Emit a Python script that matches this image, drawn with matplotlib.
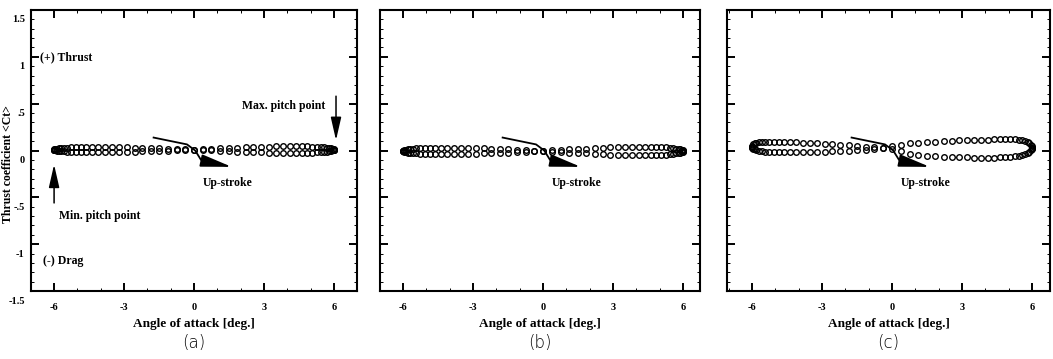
import matplotlib
matplotlib.use("Agg")
import matplotlib.pyplot as plt
from matplotlib.ticker import FixedLocator, MultipleLocator, FixedFormatter
from matplotlib.transforms import ScaledTranslation
from matplotlib.patches import FancyArrowPatch

# ---------------- data ----------------
ALPHA = [-6.00, -5.99, -5.95, -5.89, -5.81, -5.71, -5.58, -5.43, -5.26, -5.07,
         -4.85, -4.62, -4.37, -4.11, -3.82, -3.53, -3.21, -2.89, -2.55, -2.21,
         -1.85, -1.49, -1.12, -0.75, -0.38, 0.00, 0.38, 0.75, 1.12, 1.49,
         1.85, 2.21, 2.55, 2.89, 3.21, 3.53, 3.82, 4.11, 4.37, 4.62,
         4.85, 5.07, 5.26, 5.43, 5.58, 5.71, 5.81, 5.89, 5.95, 5.99, 6.00]

# panel (a)
CT_A_UP = [0.010, 0.014, 0.017, 0.020, 0.023, 0.026, 0.029, 0.032, 0.034, 0.035,
           0.037, 0.038, 0.038, 0.038, 0.038, 0.037, 0.035, 0.034, 0.032, 0.029,
           0.026, 0.023, 0.020, 0.017, 0.014, 0.010, 0.006, 0.001, -0.003, -0.007,
           -0.011, -0.014, -0.017, -0.020, -0.022, -0.023, -0.024, -0.025, -0.025, -0.024,
           -0.023, -0.022, -0.020, -0.017, -0.014, -0.011, -0.007, -0.003, 0.001, 0.006, 0.010]
CT_A_DOWN = [0.010, 0.006, 0.003, 0.000, -0.003, -0.006, -0.009, -0.012, -0.014, -0.015,
             -0.017, -0.018, -0.018, -0.018, -0.018, -0.017, -0.015, -0.014, -0.012, -0.009,
             -0.006, -0.003, 0.000, 0.003, 0.006, 0.010, 0.014, 0.019, 0.023, 0.027,
             0.031, 0.034, 0.037, 0.040, 0.042, 0.043, 0.044, 0.045, 0.045, 0.044,
             0.043, 0.042, 0.040, 0.037, 0.034, 0.031, 0.027, 0.023, 0.019, 0.014, 0.010]

# panel (b)
CT_B_UP = [-0.005, -0.001, 0.004, 0.008, 0.012, 0.016, 0.019, 0.022, 0.025, 0.027,
           0.028, 0.029, 0.030, 0.030, 0.029, 0.028, 0.027, 0.025, 0.022, 0.019,
           0.016, 0.012, 0.008, 0.004, -0.001, -0.005, -0.011, -0.016, -0.022, -0.027,
           -0.031, -0.036, -0.040, -0.043, -0.046, -0.048, -0.049, -0.050, -0.050, -0.049,
           -0.048, -0.046, -0.043, -0.040, -0.036, -0.031, -0.027, -0.022, -0.016, -0.011, -0.005]
CT_B_DOWN = [-0.005, -0.009, -0.014, -0.018, -0.022, -0.026, -0.029, -0.032, -0.035, -0.037,
             -0.038, -0.039, -0.040, -0.040, -0.039, -0.038, -0.037, -0.035, -0.032, -0.029,
             -0.026, -0.022, -0.018, -0.014, -0.009, -0.005, 0.001, 0.006, 0.012, 0.017,
             0.021, 0.026, 0.030, 0.033, 0.036, 0.038, 0.039, 0.040, 0.040, 0.039,
             0.038, 0.036, 0.033, 0.030, 0.026, 0.021, 0.017, 0.012, 0.006, 0.001, -0.005]

# panel (c)
CT_C_UP = [0.035, 0.050, 0.065, 0.075, 0.083, 0.088, 0.090, 0.092, 0.093, 0.093,
           0.092, 0.091, 0.090, 0.088, 0.085, 0.082, 0.078, 0.073, 0.068, 0.062,
           0.055, 0.048, 0.040, 0.033, 0.025, 0.015, -0.010, -0.035, -0.050, -0.058,
           -0.063, -0.067, -0.070, -0.072, -0.074, -0.075, -0.076, -0.076, -0.075, -0.074,
           -0.072, -0.068, -0.062, -0.055, -0.046, -0.036, -0.025, -0.012, 0.002, 0.016, 0.030]
CT_C_DOWN = [0.035, 0.028, 0.020, 0.012, 0.005, -0.002, -0.008, -0.013, -0.016, -0.018,
             -0.020, -0.020, -0.020, -0.020, -0.018, -0.017, -0.015, -0.012, -0.010, -0.005,
             0.000, 0.005, 0.010, 0.020, 0.030, 0.045, 0.060, 0.080, 0.085, 0.090,
             0.095, 0.100, 0.105, 0.108, 0.110, 0.113, 0.115, 0.117, 0.118, 0.120,
             0.120, 0.120, 0.118, 0.115, 0.110, 0.100, 0.090, 0.075, 0.060, 0.045, 0.030]

X_TICKS = [-6, -3, 0, 3, 6]
X_TICK_LABELS = ["-6", "-3", "0", "3", "6"]
Y_TICKS = [-1.5, -1.0, -0.5, 0.0, 0.5, 1.0, 1.5]
Y_TICK_LABELS = ["-1.5", "-1", "-.5", "0", ".5", "1", "1.5"]
PANEL_LABELS = ["(a)", "(b)", "(c)"]
X_LABEL = "Angle of attack [deg.]"
Y_LABEL = "Thrust coefficient <Ct>"

# up-stroke arrow path (same in every panel)
UP_PATH_X = [-1.77, -0.30, 0.05, 0.30, 0.55]
UP_PATH_Y = [0.14, 0.065, 0.0, -0.10, -0.12]
UP_TIP = (1.62, -0.175)

# ---------------- figure ----------------
W, H, DPI = 1053, 359, 100
fig = plt.figure(figsize=(W / DPI, H / DPI), dpi=DPI)
SERIF = "Liberation Serif"

panels = [
    dict(left=31, right=357, xlim=(-6.99, 6.99), up=CT_A_UP, down=CT_A_DOWN, ylabels=True),
    dict(left=380, right=700, xlim=(-6.99, 6.73), up=CT_B_UP, down=CT_B_DOWN, ylabels=False),
    dict(left=727, right=1050, xlim=(-7.07, 6.77), up=CT_C_UP, down=CT_C_DOWN, ylabels=False),
]
TOP, BOT = 10, 291

axes = []
for i, p in enumerate(panels):
    ax = fig.add_axes([p["left"] / W, (H - BOT) / H, (p["right"] - p["left"]) / W, (BOT - TOP) / H])
    axes.append(ax)
    ax.set_xlim(*p["xlim"])
    ax.set_ylim(-1.5, 1.5)
    mk = dict(ls="none", marker="o", ms=4.0, mfc="none", mec="black", mew=1.0)
    ax.plot(ALPHA, p["up"], **mk)
    ax.plot(ALPHA, p["down"], **mk)

    for s in ax.spines.values():
        s.set_linewidth(1.5)
    ax.xaxis.set_major_locator(FixedLocator(X_TICKS))
    ax.xaxis.set_major_formatter(FixedFormatter(X_TICK_LABELS))
    ax.xaxis.set_minor_locator(MultipleLocator(1))
    ax.yaxis.set_major_locator(FixedLocator(Y_TICKS))
    ax.yaxis.set_minor_locator(MultipleLocator(0.1))
    ax.tick_params(which="both", direction="in", top=True, right=True)
    ax.tick_params(which="major", length=6, width=1.4)
    ax.tick_params(which="minor", length=2.2, width=0.7)
    ax.tick_params(axis="x", which="major", pad=9)
    if p["ylabels"]:
        ax.yaxis.set_major_formatter(FixedFormatter(Y_TICK_LABELS))
        ax.tick_params(axis="y", which="major", pad=4.5)
    else:
        ax.tick_params(axis="y", labelleft=False)
    for lbl in ax.get_xticklabels() + ax.get_yticklabels():
        lbl.set_fontfamily(SERIF)
        lbl.set_fontweight("bold")
        lbl.set_fontsize(7.5)

    ax.set_xlabel(X_LABEL, fontfamily=SERIF, fontweight="bold", fontsize=9.5, labelpad=0)
    ax.xaxis.set_label_coords(0.5, -0.095)

    # up-stroke arrow
    ax.plot(UP_PATH_X, UP_PATH_Y, color="black", lw=1.3, solid_capstyle="butt")
    ax.add_patch(FancyArrowPatch((UP_PATH_X[-1], UP_PATH_Y[-1]), UP_TIP,
                                 arrowstyle="-|>,head_length=1.9,head_width=0.38",
                                 mutation_scale=10, color="black", lw=1.3,
                                 shrinkA=0, shrinkB=0))
    ax.text(1.45, -0.35, "Up-stroke", fontfamily=SERIF, fontweight="bold",
            fontsize=8.5, ha="center", va="center")

    fig.text(((p["left"] + p["right"]) / 2) / W, (H - 343) / H, PANEL_LABELS[i],
             fontfamily="DejaVu Sans", fontweight="light", fontsize=12,
             color="black", ha="center", va="center")

ax = axes[0]
ax.set_ylabel(Y_LABEL, fontfamily=SERIF, fontweight="bold", fontsize=8.5)
ax.yaxis.set_label_coords(-0.052, 0.45)

txt = dict(fontfamily=SERIF, fontweight="bold", fontsize=8.5, va="center")
ax.text(-6.62, 0.99, "(+) Thrust", ha="left", **txt)
ax.text(5.64, 0.47, "Max. pitch point", ha="right", **txt)
ax.text(-5.8, -0.70, "Min. pitch point", ha="left", **txt)
ax.text(-6.49, -1.185, "(-) Drag", ha="left", **txt)

arrow_kw = dict(arrowstyle="-|>,head_length=1.4,head_width=0.32", mutation_scale=10,
                color="black", lw=1.1, shrinkA=0, shrinkB=0)
ax.add_patch(FancyArrowPatch((6.09, 0.58), (6.09, 0.11), **arrow_kw))
ax.add_patch(FancyArrowPatch((-6.0, -0.56), (-6.0, -0.15), **arrow_kw))

# y tick labels in the original sit slightly below their ticks
fig.canvas.draw()
off = ScaledTranslation(0, -0.09, fig.dpi_scale_trans)
for lbl in axes[0].get_yticklabels():
    lbl.set_transform(lbl.get_transform() + off)

fig.savefig("out.png", dpi=DPI, facecolor="white")
